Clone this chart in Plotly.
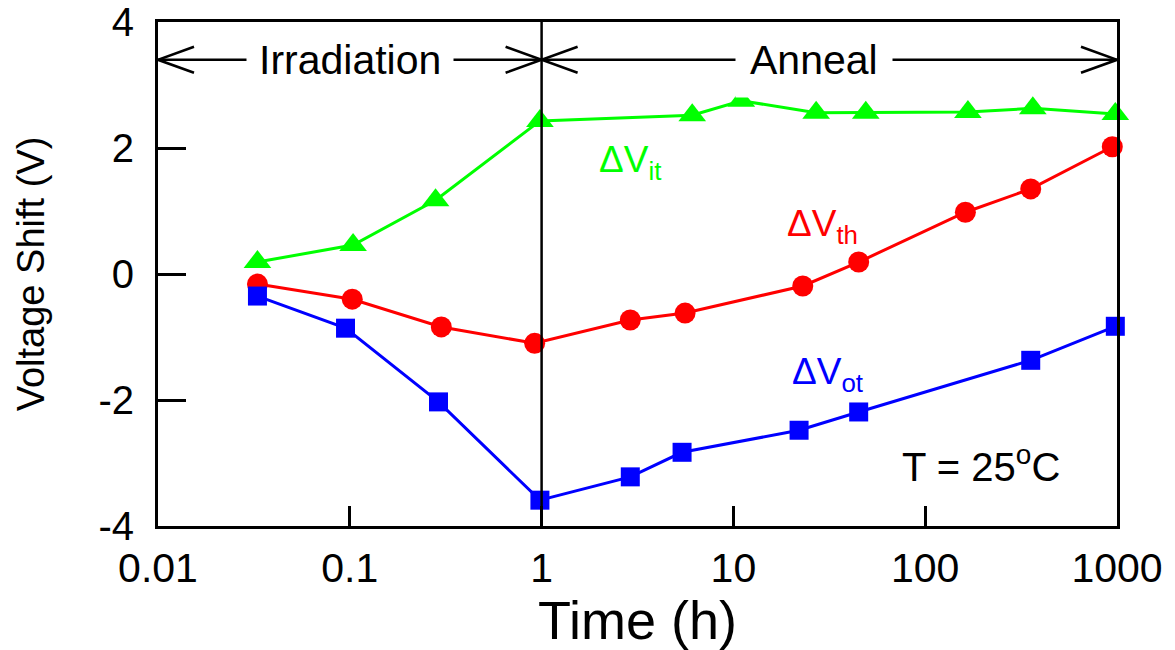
import plotly.graph_objects as go
import math

# ---- data ----
t_it = [0.033, 0.104, 0.28, 0.98, 6.1, 11, 27, 49, 167, 364, 980]
v_it = [0.19, 0.46, 1.17, 2.43, 2.52, 2.75, 2.56, 2.56, 2.57, 2.63, 2.54]

t_th = [0.033, 0.103, 0.30, 0.92, 2.9, 5.6, 23, 45, 162, 355, 945]
v_th = [-0.16, -0.40, -0.84, -1.10, -0.73, -0.62, -0.19, 0.19, 0.98, 1.35, 2.02]

t_ot = [0.033, 0.095, 0.29, 0.98, 2.9, 5.4, 22, 45, 355, 980]
v_ot = [-0.35, -0.86, -2.03, -3.59, -3.22, -2.83, -2.48, -2.19, -1.37, -0.83]

x_ticks = [0.01, 0.1, 1, 10, 100, 1000]
x_ticklabels = ["0.01", "0.1", "1", "10", "100", "1000"]
y_ticks = [-4, -2, 0, 2, 4]
y_ticklabels = ["-4", "-2", "0", "2", "4"]

FONT = "Liberation Sans, Arial, sans-serif"
GREEN, RED, BLUE = "#00ff00", "#ff0000", "#0000ff"

fig = go.Figure()
fig.add_trace(go.Scatter(x=t_it, y=v_it, mode="lines+markers",
                         line=dict(color=GREEN, width=3),
                         marker=dict(symbol="triangle-up", size=24, color=GREEN),
                         cliponaxis=False, showlegend=False))
fig.add_trace(go.Scatter(x=t_th, y=v_th, mode="lines+markers",
                         line=dict(color=RED, width=3),
                         marker=dict(symbol="circle", size=21, color=RED),
                         cliponaxis=False, showlegend=False))
fig.add_trace(go.Scatter(x=t_ot, y=v_ot, mode="lines+markers",
                         line=dict(color=BLUE, width=3),
                         marker=dict(symbol="square", size=19, color=BLUE),
                         cliponaxis=False, showlegend=False))

# vertical separator at t = 1 h
fig.add_shape(type="line", xref="x", yref="y", x0=1, x1=1, y0=-4, y1=4,
              line=dict(color="black", width=2.5))

# period arrows
ARROW_Y = 3.4
periods = [(0.01, 1), (1, 1000)]
for (a, b) in periods:
    fig.add_shape(type="line", xref="x", yref="y", x0=a, x1=b, y0=ARROW_Y, y1=ARROW_Y,
                  line=dict(color="black", width=2.5))
    fig.add_shape(type="path", xref="x", yref="y", xsizemode="pixel", ysizemode="pixel",
                  xanchor=a, yanchor=ARROW_Y, path="M 36,13 L 0,0 L 36,-13",
                  line=dict(color="black", width=2.5))
    fig.add_shape(type="path", xref="x", yref="y", xsizemode="pixel", ysizemode="pixel",
                  xanchor=b, yanchor=ARROW_Y, path="M -36,13 L 0,0 L -36,-13",
                  line=dict(color="black", width=2.5))

fig.add_annotation(x=math.log10(0.1), y=ARROW_Y, xref="x", yref="y", text="Irradiation",
                   showarrow=False, bgcolor="white", borderpad=12,
                   font=dict(family=FONT, size=41, color="black"))
fig.add_annotation(x=1.42, y=ARROW_Y, xref="x", yref="y", text="Anneal",
                   showarrow=False, bgcolor="white", borderpad=14,
                   font=dict(family=FONT, size=41, color="black"))

# series labels
fig.add_annotation(x=math.log10(1.95), y=1.78, xref="x", yref="y", xanchor="left",
                   text="ΔV<sub>it</sub>", showarrow=False,
                   font=dict(family=FONT, size=37, color=GREEN))
fig.add_annotation(x=math.log10(18.6), y=0.76, xref="x", yref="y", xanchor="left",
                   text="ΔV<sub>th</sub>", showarrow=False,
                   font=dict(family=FONT, size=37, color=RED))
fig.add_annotation(x=math.log10(19.7), y=-1.58, xref="x", yref="y", xanchor="left",
                   text="ΔV<sub>ot</sub>", showarrow=False,
                   font=dict(family=FONT, size=37, color=BLUE))
fig.add_annotation(x=math.log10(74), y=-3.02, xref="x", yref="y", xanchor="left",
                   text="T = 25<sup>o</sup>C", showarrow=False,
                   font=dict(family=FONT, size=40, color="black"))

fig.update_xaxes(type="log", range=[-2, 3], tickvals=x_ticks, ticktext=x_ticklabels,
                 ticks="inside", ticklen=20, tickwidth=2.5, tickcolor="black",
                 showline=True, linecolor="black", linewidth=3, mirror=True,
                 showgrid=False, zeroline=False, ticklabelstandoff=4,
                 ticklabeloverflow="allow",
                 tickfont=dict(family=FONT, size=41, color="black"),
                 title=dict(text="Time (h)", standoff=18,
                            font=dict(family=FONT, size=54, color="black")))
fig.update_yaxes(range=[-4, 4], tickvals=y_ticks, ticktext=y_ticklabels,
                 ticks="inside", ticklen=28, tickwidth=2.5, tickcolor="black",
                 showline=True, linecolor="black", linewidth=3, mirror=True,
                 showgrid=False, zeroline=False, ticklabelstandoff=13,
                 ticklabeloverflow="allow",
                 tickfont=dict(family=FONT, size=40, color="black"),
                 title=dict(text="Voltage Shift (V)", standoff=43,
                            font=dict(family=FONT, size=38, color="black")))

fig.update_layout(width=1167, height=642,
                  margin=dict(l=150, r=58, t=14, b=124, autoexpand=False),
                  plot_bgcolor="white", paper_bgcolor="white")

fig.write_html("out.html")
